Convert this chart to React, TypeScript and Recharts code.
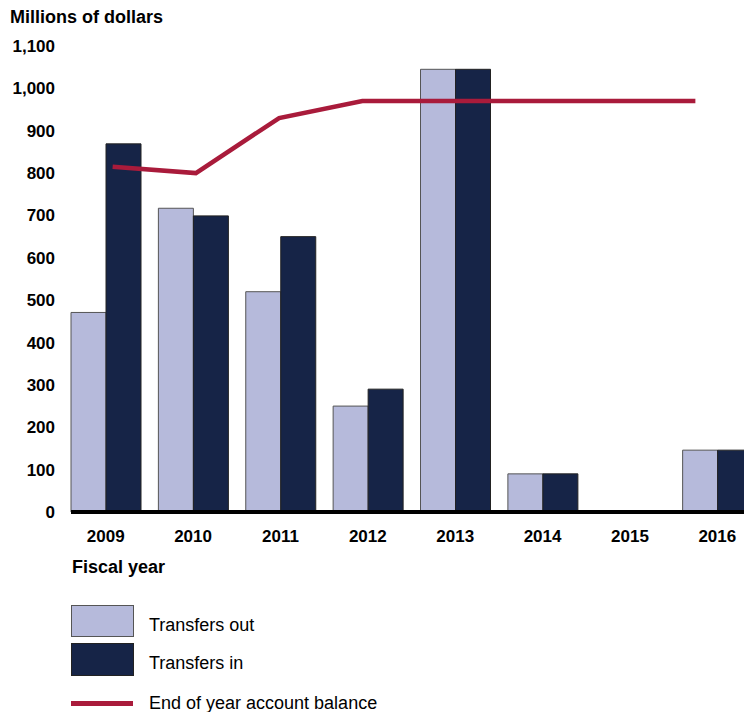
import React from 'react';
import { ComposedChart, Bar, Line, XAxis, YAxis } from 'recharts';

const years = ['2009', '2010', '2011', '2012', '2013', '2014', '2015', '2016'];
const transfersOut = [471, 717, 520, 250, 1045, 90, 0, 146];
const transfersIn = [869, 699, 650, 290, 1045, 90, 0, 146];
const balance = [815, 800, 930, 970, 970, 970, 970, 970];
const yTicks = [0, 100, 200, 300, 400, 500, 600, 700, 800, 900, 1000, 1100];

const FONT = '"Liberation Sans", Arial, sans-serif';
const LIGHT = '#b6badb';
const DARK = '#162447';
const RED = '#a91b3b';

const data = years.map((y, i) => ({
  year: y,
  out: transfersOut[i],
  in: transfersIn[i],
  balance: balance[i],
}));

const fmt = (v: number) => v.toLocaleString('en-US');

export default function App() {
  const tickStyle = { fill: '#000', fontSize: 17, fontWeight: 700, fontFamily: FONT };
  return (
    <div style={{ position: 'absolute', left: 0, top: 0, width: 744, height: 712, fontFamily: FONT, color: '#000', overflow: 'hidden' }}>
      <div style={{ position: 'absolute', left: 10, top: 7.6, fontSize: 18, lineHeight: '18px', fontWeight: 700 }}>
        Millions of dollars
      </div>
      <ComposedChart
        width={744}
        height={712}
        data={data}
        margin={{ top: 46, right: 0, left: 0, bottom: 0 }}
        barGap={0}
      >
        <XAxis
          dataKey="year"
          height={200}
          padding={{ left: -9, right: -17 }}
          axisLine={{ stroke: '#000', strokeWidth: 4 }}
          tickLine={false}
          tickSize={0}
          tickMargin={18}
          tick={tickStyle}
          interval={0}
        />
        <XAxis xAxisId="line" dataKey="year" hide padding={{ left: 0, right: 7 }} />
        <YAxis
          width={71}
          domain={[0, 1100]}
          ticks={yTicks}
          tickFormatter={fmt}
          axisLine={false}
          tickLine={false}
          tickSize={0}
          tickMargin={16}
          tick={tickStyle}
          interval={0}
        />
        <Bar dataKey="out" fill={LIGHT} stroke="#555" strokeWidth={1} barSize={35} isAnimationActive={false} />
        <Bar dataKey="in" fill={DARK} stroke="#222" strokeWidth={1} barSize={35} isAnimationActive={false} />
        <Line
          xAxisId="line"
          dataKey="balance"
          type="linear"
          stroke={RED}
          strokeWidth={4.5}
          dot={false}
          activeDot={false}
          isAnimationActive={false}
        />
      </ComposedChart>
      <div style={{ position: 'absolute', left: 72, top: 557.6, fontSize: 18, lineHeight: '18px', fontWeight: 700 }}>
        Fiscal year
      </div>
      <div style={{ position: 'absolute', left: 71, top: 605, width: 61, height: 30, background: LIGHT, border: '1px solid #555' }} />
      <div style={{ position: 'absolute', left: 149, top: 616, fontSize: 18, lineHeight: '18px' }}>Transfers out</div>
      <div style={{ position: 'absolute', left: 71, top: 643, width: 61, height: 31, background: DARK, border: '1px solid #222' }} />
      <div style={{ position: 'absolute', left: 149, top: 654, fontSize: 18, lineHeight: '18px' }}>Transfers in</div>
      <div style={{ position: 'absolute', left: 71, top: 700.5, width: 62, height: 5, background: RED }} />
      <div style={{ position: 'absolute', left: 149, top: 694, fontSize: 18, lineHeight: '18px' }}>End of year account balance</div>
    </div>
  );
}
